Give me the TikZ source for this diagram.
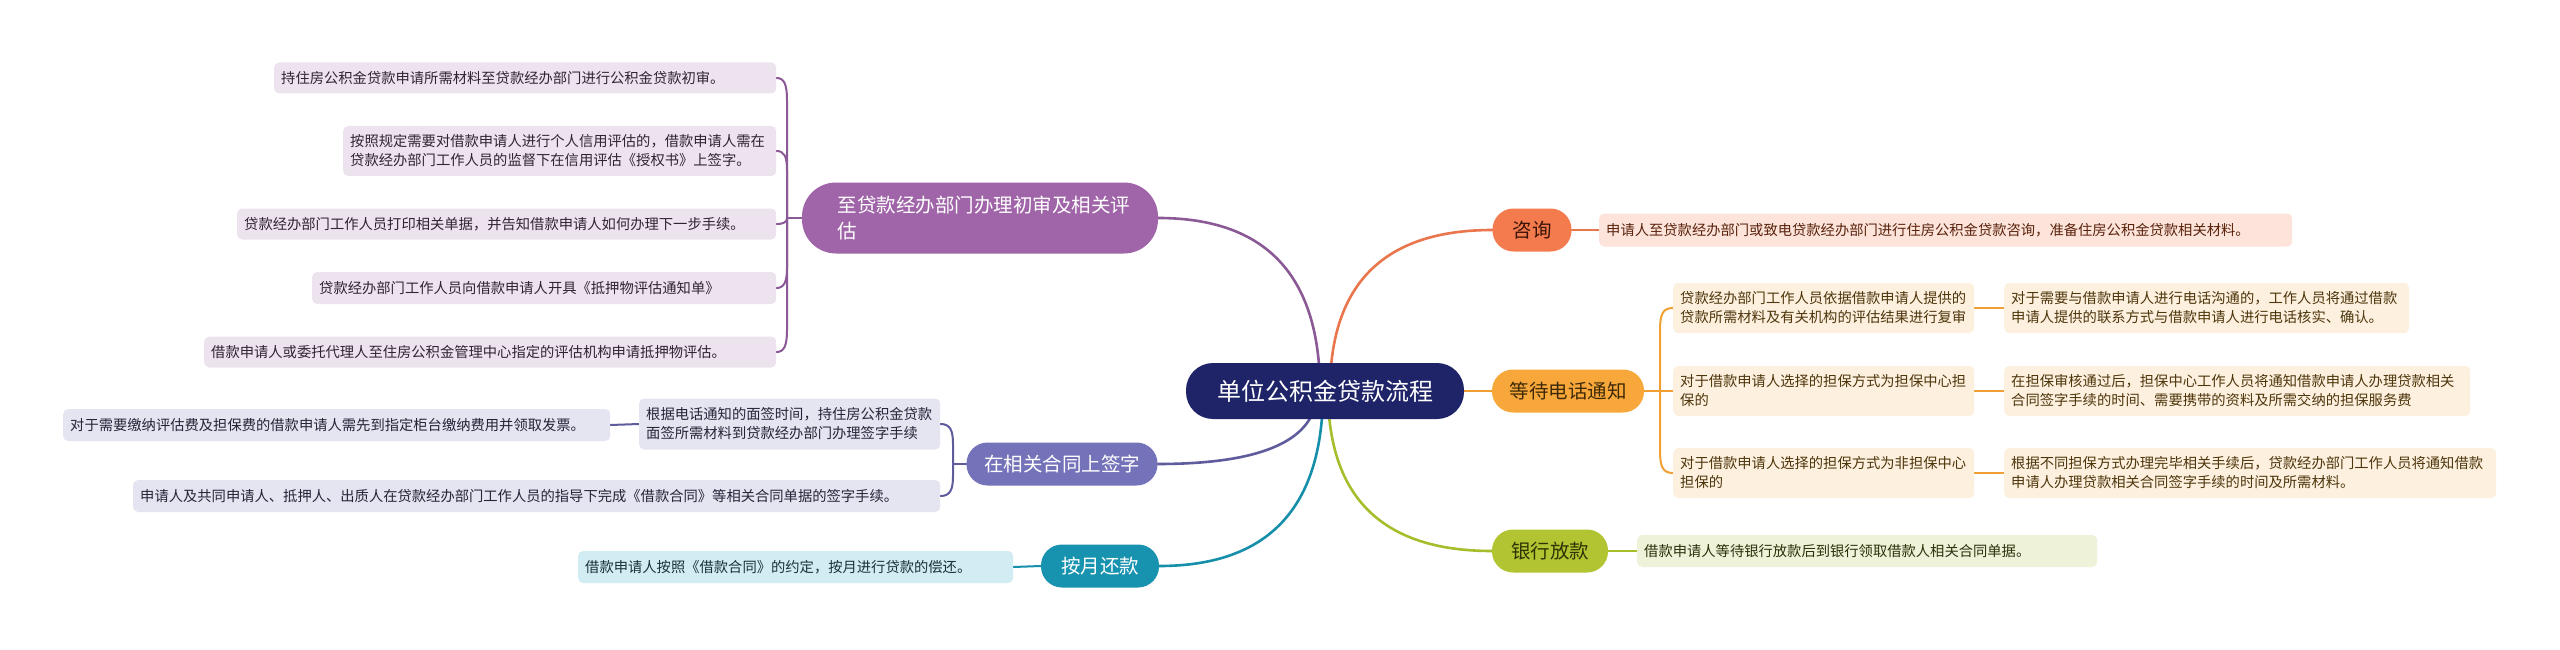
\documentclass[tikz,border=0pt]{standalone}
\usepackage{fontspec}
\setmainfont{Noto Sans CJK SC}
\usetikzlibrary{calc,backgrounds}
\definecolor{navy}{HTML}{1F2468}
\definecolor{cons}{HTML}{F47B4E}
\definecolor{consT}{HTML}{3A1406}
\definecolor{consL}{HTML}{FCE4DA}
\definecolor{consLT}{HTML}{5A220C}
\definecolor{consC}{HTML}{E9764C}
\definecolor{wait}{HTML}{F8A83B}
\definecolor{waitT}{HTML}{3F2A08}
\definecolor{waitL}{HTML}{FDF0DE}
\definecolor{waitLT}{HTML}{4E360C}
\definecolor{waitC}{HTML}{F0A033}
\definecolor{bank}{HTML}{B2C431}
\definecolor{bankT}{HTML}{2F3305}
\definecolor{bankL}{HTML}{EEF2D8}
\definecolor{bankLT}{HTML}{2C310C}
\definecolor{bankC}{HTML}{A8BD2C}
\definecolor{purp}{HTML}{A064A8}
\definecolor{purpL}{HTML}{EDE3EF}
\definecolor{purpLT}{HTML}{302432}
\definecolor{purpC}{HTML}{8B5A96}
\definecolor{slate}{HTML}{7472B8}
\definecolor{slateL}{HTML}{E5E4F1}
\definecolor{slateLT}{HTML}{262538}
\definecolor{slateC}{HTML}{5F5C9E}
\definecolor{tealF}{HTML}{1893AF}
\definecolor{tealL}{HTML}{D2ECF3}
\definecolor{tealLT}{HTML}{18323A}
\definecolor{tealC}{HTML}{168FAB}
\begin{document}
\begin{tikzpicture}[x=1pt,y=-1pt,
  leaf/.style={rounded corners=5pt, inner xsep=7pt, inner ysep=0pt, anchor=west, align=left, font=\fontsize{14.3}{19}\selectfont},
  mid/.style={rounded corners=21pt, inner sep=0pt, align=center, minimum height=43pt, font=\fontsize{19.5}{26}\selectfont},
  link/.style={line width=2.6pt, line cap=round},
  sub/.style={line width=2pt, line cap=round}]

% central and main nodes
\node[mid, fill=navy, text=white, minimum width=278pt, minimum height=56pt, rounded corners=27pt, font=\fontsize{24}{28}\selectfont] (root) at (1325,391) {单位公积金贷款流程};
\node[mid, fill=cons, text=consT, minimum width=79pt] (zx) at (1532,230) {咨询};
\node[mid, fill=wait, text=waitT, minimum width=152pt] (dd) at (1568,391) {等待电话通知};
\node[mid, fill=bank, text=bankT, minimum width=116pt] (yh) at (1550,551) {银行放款};
\node[mid, fill=purp, text=white, minimum width=356pt, minimum height=71pt, rounded corners=34pt, align=left, text width=285pt] (zd) at (980,218) {至贷款经办部门办理初审及相关评\\估};
\node[mid, fill=slate, text=white, minimum width=191pt] (zs) at (1062,464) {在相关合同上签字};
\node[mid, fill=tealF, text=white, minimum width=118pt] (ay) at (1100,566) {按月还款};

% right side leaves
\node[leaf, fill=consL, text=consLT, text width=679pt, minimum height=33pt] (zx1) at (1599,230) {申请人至贷款经办部门或致电贷款经办部门进行住房公积金贷款咨询，准备住房公积金贷款相关材料。};
\node[leaf, fill=waitL, text=waitLT, text width=287pt, minimum height=50pt] (c1) at (1673,308) {贷款经办部门工作人员依据借款申请人提供的\\贷款所需材料及有关机构的评估结果进行复审};
\node[leaf, fill=waitL, text=waitLT, text width=287pt, minimum height=50pt] (c2) at (1673,391) {对于借款申请人选择的担保方式为担保中心担\\保的};
\node[leaf, fill=waitL, text=waitLT, text width=287pt, minimum height=50pt] (c3) at (1673,473) {对于借款申请人选择的担保方式为非担保中心\\担保的};
\node[leaf, fill=waitL, text=waitLT, text width=391pt, minimum height=50pt] (g1) at (2004,308) {对于需要与借款申请人进行电话沟通的，工作人员将通过借款\\申请人提供的联系方式与借款申请人进行电话核实、确认。};
\node[leaf, fill=waitL, text=waitLT, text width=452pt, minimum height=50pt] (g2) at (2004,391) {在担保审核通过后，担保中心工作人员将通知借款申请人办理贷款相关\\合同签字手续的时间、需要携带的资料及所需交纳的担保服务费};
\node[leaf, fill=waitL, text=waitLT, text width=478pt, minimum height=50pt] (g3) at (2004,473) {根据不同担保方式办理完毕相关手续后，贷款经办部门工作人员将通知借款\\申请人办理贷款相关合同签字手续的时间及所需材料。};
\node[leaf, fill=bankL, text=bankLT, text width=446pt, minimum height=32pt] (yh1) at (1637,551) {借款申请人等待银行放款后到银行领取借款人相关合同单据。};

% left side leaves
\node[leaf, fill=purpL, text=purpLT, text width=488pt, minimum height=31pt] (l1) at (274,78) {持住房公积金贷款申请所需材料至贷款经办部门进行公积金贷款初审。};
\node[leaf, fill=purpL, text=purpLT, text width=419pt, minimum height=50pt] (l2) at (343,151) {按照规定需要对借款申请人进行个人信用评估的，借款申请人需在\\贷款经办部门工作人员的监督下在信用评估《授权书》上签字。};
\node[leaf, fill=purpL, text=purpLT, text width=525pt, minimum height=31pt] (l3) at (237,224) {贷款经办部门工作人员打印相关单据，并告知借款申请人如何办理下一步手续。};
\node[leaf, fill=purpL, text=purpLT, text width=450pt, minimum height=32pt] (l4) at (312,288) {贷款经办部门工作人员向借款申请人开具《抵押物评估通知单》};
\node[leaf, fill=purpL, text=purpLT, text width=558pt, minimum height=31pt] (l5) at (204,352) {借款申请人或委托代理人至住房公积金管理中心指定的评估机构申请抵押物评估。};
\node[leaf, fill=slateL, text=slateLT, text width=287pt, minimum height=51pt] (s1) at (639,424) {根据电话通知的面签时间，持住房公积金贷款\\面签所需材料到贷款经办部门办理签字手续};
\node[leaf, fill=slateL, text=slateLT, text width=533pt, minimum height=32pt] (s1a) at (63,425) {对于需要缴纳评估费及担保费的借款申请人需先到指定柜台缴纳费用并领取发票。};
\node[leaf, fill=slateL, text=slateLT, text width=793pt, minimum height=32pt] (s2) at (133,496) {申请人及共同申请人、抵押人、出质人在贷款经办部门工作人员的指导下完成《借款合同》等相关合同单据的签字手续。};
\node[leaf, fill=tealL, text=tealLT, text width=421pt, minimum height=32pt] (ay1) at (578,567) {借款申请人按照《借款合同》的约定，按月进行贷款的偿还。};

% start points of main curves and spine junctions
\coordinate (rp) at ($(root.center)+(-5,0)$);
\coordinate (ro) at ($(root.center)+(5,0)$);
\coordinate (rs) at ($(root.center)+(-8,0)$);
\coordinate (rt) at ($(root.center)+(-2,0)$);
\coordinate (rl) at ($(root.center)+(3,0)$);
\coordinate (jp) at (787,218);
\coordinate (jw) at (1660,391);
\coordinate (js) at (953,464);

\begin{scope}[on background layer]
\fill[white] (0,0) rectangle (2560,650);
% main curves (quadratic as cubic)
\draw[link, draw=purpC] (rp) .. controls ($(rp)!0.667!(rp|-zd.east)$) and ($(zd.east)!0.667!(rp|-zd.east)$) .. (zd.east);
\draw[link, draw=consC] (ro) .. controls ($(ro)!0.667!(ro|-zx.west)$) and ($(zx.west)!0.667!(ro|-zx.west)$) .. (zx.west);
\draw[link, draw=waitC] (root.east) -- (dd.west);
\draw[link, draw=slateC] (rs) .. controls ($(rs)!0.667!(rs|-zs.east)$) and ($(zs.east)!0.667!(rs|-zs.east)$) .. (zs.east);
\draw[link, draw=tealC] (rt) .. controls ($(rt)!0.667!(rt|-ay.east)$) and ($(ay.east)!0.667!(rt|-ay.east)$) .. (ay.east);
\draw[link, draw=bankC] (rl) .. controls ($(rl)!0.667!(rl|-yh.west)$) and ($(yh.west)!0.667!(rl|-yh.west)$) .. (yh.west);
% sub links
\draw[sub, draw=consC] (zx.east) -- (zx1.west);
\draw[sub, draw=bankC] (yh.east) -- (yh1.west);
\draw[sub, draw=tealC] (ay.west) -- (ay1.east);
% purple bracket
\draw[sub, draw=purpC] (zd.west) -- (jp);
\draw[sub, draw=purpC] (jp) -- (787,100) .. controls (787,84) and (784,78) .. (l1.east);
\draw[sub, draw=purpC] (jp) -- (787,170) .. controls (787,156) and (784,151) .. (l2.east);
\draw[sub, draw=purpC] (jp) .. controls (787,222) and (784,224) .. (l3.east);
\draw[sub, draw=purpC] (jp) -- (787,268) .. controls (787,282) and (784,288) .. (l4.east);
\draw[sub, draw=purpC] (jp) -- (787,330) .. controls (787,346) and (784,352) .. (l5.east);
% orange bracket
\draw[sub, draw=waitC] (dd.east) -- (c2.west);
\draw[sub, draw=waitC] (jw) -- (1660,330) .. controls (1660,314) and (1663,308) .. (c1.west);
\draw[sub, draw=waitC] (jw) -- (1660,451) .. controls (1660,467) and (1663,473) .. (c3.west);
\draw[sub, draw=waitC] (c1.east) -- (g1.west);
\draw[sub, draw=waitC] (c2.east) -- (g2.west);
\draw[sub, draw=waitC] (c3.east) -- (g3.west);
% slate bracket
\draw[sub, draw=slateC] (zs.west) -- (js);
\draw[sub, draw=slateC] (js) -- (953,444) .. controls (953,430) and (950,424) .. (s1.east);
\draw[sub, draw=slateC] (js) -- (953,476) .. controls (953,490) and (950,496) .. (s2.east);
\draw[sub, draw=slateC] (s1.west) -- (s1a.east);
\end{scope}
\useasboundingbox (0,0) rectangle (2560,650);
\end{tikzpicture}
\end{document}
